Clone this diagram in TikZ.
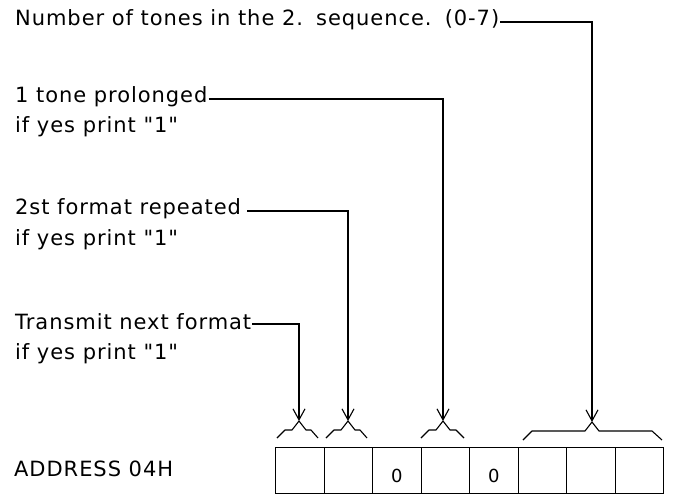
\documentclass[tikz,border=0pt]{standalone}
\usepackage{fontspec}
\newfontfamily\lblfont{DejaVu Sans}[LetterSpace=4.5]
\usetikzlibrary{arrows.meta}
\begin{document}
\begin{tikzpicture}[x=1pt,y=-1pt,
  lbl/.style={anchor=west,inner sep=0pt,font=\lblfont\fontsize{21}{24}\selectfont},
  cell/.style={draw,line width=1.1pt,minimum width=48.5pt,minimum height=46pt,inner sep=0pt,anchor=north west},
  zero/.style={font=\lblfont\fontsize{18}{20}\selectfont},
  lead/.style={line width=1.1pt,-{Straight Barb[length=11pt,width=12pt,line width=1.1pt]}},
  brc/.style={line width=1.1pt,line join=round}]
\useasboundingbox (0,0) rectangle (673,496);
% labels
\node[lbl] (t1) at (15,20) {Number of tones in the 2.\hspace{3pt} sequence.\hspace{3pt} (0-7)};
\node[lbl] (t2) at (15,97) {1 tone prolonged};
\node[lbl] (t2b) at (15,127) {if yes print "1"};
\node[lbl] (t3) at (15,209) {2st format repeated};
\node[lbl] (t3b) at (15,240) {if yes print "1"};
\node[lbl] (t4) at (15,322) {Transmit next format};
\node[lbl] (t4b) at (15,354) {if yes print "1"};
\node[lbl] (addr) at (14,469) {ADDRESS 04H};
% register cells
\foreach \i in {1,...,8}{
  \node[cell] (c\i) at ({275+48.5*(\i-1)},447) {};
}
\node[zero] at ([yshift=-5pt]c3.center) {0};
\node[zero] at ([yshift=-5pt]c5.center) {0};
% braces
\coordinate (b1) at (299,421);
\coordinate (b2) at (348,421);
\coordinate (b3) at (443,421);
\coordinate (b4) at (592,422);
\draw[brc] (277,438) -- (285,430) -- (292,430) -- (b1) -- (306,430) -- (311,430) -- (318,438);
\draw[brc] (326,438) -- (334,430) -- (341,430) -- (b2) -- (355,430) -- (360,430) -- (367,438);
\draw[brc] (421,438) -- (429,430) -- (436,430) -- (b3) -- (450,430) -- (456,430) -- (464,438);
\draw[brc] (523,440) -- (532,431) -- (585,431) -- (b4) -- (599,431) -- (652,431) -- (662,440);
% leaders
\draw[lead] ([xshift=1pt,yshift=-2pt]t1.east) -| (b4);
\draw[lead] ([xshift=1pt,yshift=-2pt]t2.east) -| (b3);
\draw[lead] ([xshift=6pt,yshift=-2pt]t3.east) -| (b2);
\draw[lead] ([xshift=1pt,yshift=-2pt]t4.east) -| (b1);
\end{tikzpicture}
\end{document}
